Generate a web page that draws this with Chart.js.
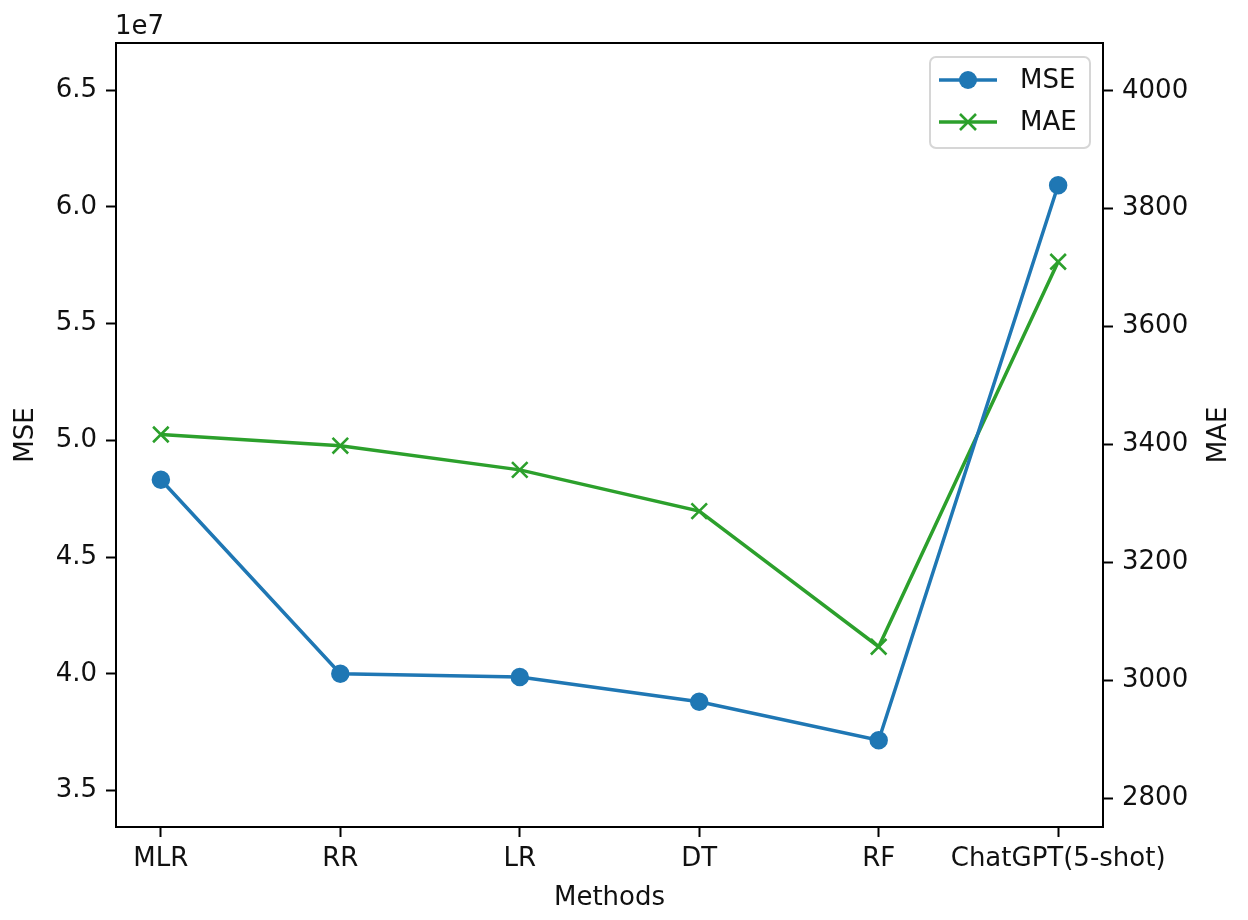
<!DOCTYPE html>
<html>
<head>
<meta charset="utf-8">
<script src="https://cdn.jsdelivr.net/npm/chart.js@4.4.1/dist/chart.umd.min.js"></script>
<style>
  html, body { margin: 0; padding: 0; background: #fff; }
  canvas { display: block; }
</style>
</head>
<body>
<canvas id="errChart" width="1248" height="920"></canvas>
<script>
const methods = ['MLR', 'RR', 'LR', 'DT', 'RF', 'ChatGPT(5-shot)'];
const mseValues = [4.831e7, 4.000e7, 3.986e7, 3.880e7, 3.715e7, 6.093e7];
const maeValues = [3417, 3398, 3357, 3287, 3057, 3710];
const mseTicks = [3.5e7, 4.0e7, 4.5e7, 5.0e7, 5.5e7, 6.0e7, 6.5e7];
const maeTicks = [2800, 3000, 3200, 3400, 3600, 3800, 4000];

const MSE_COLOR = '#1f77b4';
const MAE_COLOR = '#2ca02c';
const FONT = 'DejaVu Sans';

Chart.defaults.font.family = FONT;
Chart.defaults.font.size = 26;
Chart.defaults.color = '#111';

function toPoints(values) {
    return values.map((v, i) => ({ x: i, y: v }));
}

function tickGrid() {
    return {
        drawOnChartArea: false,
        drawTicks: true,
        tickLength: 10,
        tickWidth: 2,
        tickColor: '#000'
    };
}

// box round the plot, the "1e7" offset text, right axis title and the legend
const extras = {
    id: 'extras',
    afterDatasetsDraw(chart) {
        const { ctx, chartArea: a } = chart;
        ctx.save();
        ctx.strokeStyle = '#000';
        ctx.lineWidth = 2;
        ctx.strokeRect(a.left, a.top, a.right - a.left, a.bottom - a.top);
        ctx.restore();
    },
    afterDraw(chart) {
        const { ctx, chartArea: a } = chart;
        ctx.save();
        ctx.fillStyle = '#111';
        ctx.font = '26px ' + FONT;
        ctx.textAlign = 'left';
        ctx.textBaseline = 'alphabetic';
        ctx.fillText('1e7', a.left - 1, a.top - 9);

        // right axis title reads bottom to top like matplotlib
        ctx.translate(1219, (a.top + a.bottom) / 2);
        ctx.rotate(-Math.PI / 2);
        ctx.textAlign = 'center';
        ctx.textBaseline = 'middle';
        ctx.fillText('MAE', 0, 0);
        ctx.restore();

        // legend
        const bx = a.right - 173, by = a.top + 14, bw = 160, bh = 91;
        ctx.save();
        ctx.beginPath();
        ctx.roundRect(bx, by, bw, bh, 6);
        ctx.fillStyle = 'rgba(255,255,255,0.8)';
        ctx.fill();
        ctx.strokeStyle = 'rgba(204,204,204,0.8)';
        ctx.lineWidth = 2;
        ctx.stroke();

        chart.data.datasets.forEach((ds, i) => {
            const y = by + 23 + i * 42;
            ctx.strokeStyle = ds.borderColor;
            ctx.lineWidth = ds.borderWidth;
            ctx.beginPath();
            ctx.moveTo(bx + 9, y);
            ctx.lineTo(bx + 67, y);
            ctx.stroke();
            const mx = bx + 38;
            if (ds.pointStyle === 'circle') {
                ctx.beginPath();
                ctx.arc(mx, y, 9, 0, Math.PI * 2);
                ctx.fillStyle = ds.borderColor;
                ctx.fill();
            } else {
                ctx.lineWidth = 2.6;
                ctx.beginPath();
                ctx.moveTo(mx - 8, y - 8); ctx.lineTo(mx + 8, y + 8);
                ctx.moveTo(mx - 8, y + 8); ctx.lineTo(mx + 8, y - 8);
                ctx.stroke();
            }
            ctx.fillStyle = '#111';
            ctx.font = '26px ' + FONT;
            ctx.textAlign = 'left';
            ctx.textBaseline = 'middle';
            ctx.fillText(ds.label, bx + 90, y + 1);
        });
        ctx.restore();
    }
};

const ctx = document.getElementById('errChart').getContext('2d');
new Chart(ctx, {
    type: 'line',
    data: {
        datasets: [{
            label: 'MSE',
            data: toPoints(mseValues),
            yAxisID: 'yMse',
            borderColor: MSE_COLOR,
            backgroundColor: MSE_COLOR,
            borderWidth: 3.5,
            pointStyle: 'circle',
            pointRadius: 8,
            pointBorderWidth: 2.5,
            tension: 0
        }, {
            label: 'MAE',
            data: toPoints(maeValues),
            yAxisID: 'yMae',
            borderColor: MAE_COLOR,
            backgroundColor: MAE_COLOR,
            borderWidth: 3.5,
            pointStyle: 'crossRot',
            pointRadius: 11,
            pointBorderWidth: 2.6,
            tension: 0
        }]
    },
    options: {
        responsive: false,
        animation: false,
        layout: { padding: { top: 43, left: 0, right: 0, bottom: 0 } },
        plugins: {
            legend: { display: false },
            tooltip: { enabled: false }
        },
        scales: {
            x: {
                type: 'linear',
                min: -0.25,
                max: methods.length - 0.75,
                afterBuildTicks: (scale) => {
                    scale.ticks = methods.map((_, i) => ({ value: i }));
                },
                afterFit: (scale) => { scale.height = 93; },
                ticks: {
                    autoSkip: false,
                    maxRotation: 0,
                    padding: 7,
                    callback: (v) => methods[v]
                },
                grid: tickGrid(),
                border: { display: false },
                title: {
                    display: true,
                    text: 'Methods',
                    padding: { top: 0, bottom: 6 }
                }
            },
            yMse: {
                type: 'linear',
                position: 'left',
                min: Math.min(...mseValues) * 0.9,
                max: Math.max(...mseValues) * 1.1,
                afterBuildTicks: (scale) => {
                    scale.ticks = mseTicks.map(v => ({ value: v }));
                },
                afterFit: (scale) => { scale.width = 116; },
                ticks: {
                    padding: 9,
                    callback: (v) => (v / 1e7).toFixed(1)
                },
                grid: tickGrid(),
                border: { display: false },
                title: {
                    display: true,
                    text: 'MSE',
                    padding: { top: 11, bottom: 0 }
                }
            },
            yMae: {
                type: 'linear',
                position: 'right',
                min: Math.min(...maeValues) * 0.9,
                max: Math.max(...maeValues) * 1.1,
                afterBuildTicks: (scale) => {
                    scale.ticks = maeTicks.map(v => ({ value: v }));
                },
                afterFit: (scale) => { scale.width = 145; },
                ticks: {
                    padding: 9,
                    callback: (v) => String(v)
                },
                grid: tickGrid(),
                border: { display: false }
            }
        }
    },
    plugins: [extras]
});
</script>
</body>
</html>
